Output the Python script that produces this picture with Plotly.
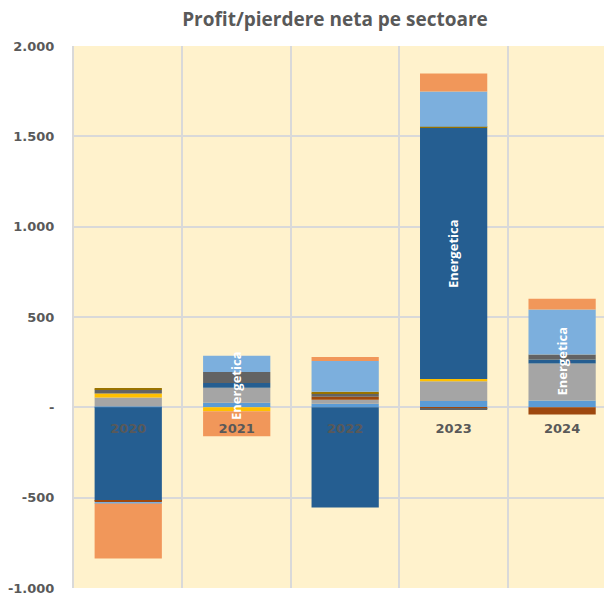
import plotly.graph_objects as go

ani = ['2020', '2021', '2022', '2023', '2024']

# profit / pierdere neta pe sectoare
financiar = [5, 25, 20, 35, 38]
industrie = [50, 83, 22, 110, 205]
constructii = [22, -22, 0, 12, 0]
energetica = [-518, 27, -555, 1390, 22]
chimie = [-6, 0, 17, -5, -39]
transport = [22, 60, 17, -10, 28]
turism = [6, 0, 10, 6, 0]
imobiliare = [-8, 90, 170, 195, 248]
altele = [-305, -138, 22, 100, 60]

eticheta_energetica = [False, True, False, True, True]

y_tickvals = [2000, 1500, 1000, 500, 0, -500, -1000]
y_ticktext = ['2.000', '1.500', '1.000', '500', '-', '-500', '-1.000']

serii = [
    ('Financiar', financiar, '#5B9BD5'),
    ('Industrie', industrie, '#A5A5A5'),
    ('Constructii', constructii, '#FFC000'),
    ('Energetica', energetica, '#255E91'),
    ('Chimie', chimie, '#9E480E'),
    ('Transport', transport, '#636363'),
    ('Turism', turism, '#997300'),
    ('Imobiliare', imobiliare, '#7CAFDD'),
    ('Altele', altele, '#F1975A'),
]

fig = go.Figure()

for nume, valori, culoare in serii:
    fig.add_trace(
        go.Bar(
            x = ani, y = valori, name = nume,
            marker = dict(color = culoare, line = dict(width = 0)),
        )
    )

# eticheta "Energetica" in mijlocul segmentului (peste celelalte serii)
sub_energetica = [s[1] for s in serii[:3]]
for i, an in enumerate(ani):
    if not eticheta_energetica[i]:
        continue
    e = energetica[i]
    if e >= 0:
        baza = sum(v[i] for v in sub_energetica if v[i] > 0)
    else:
        baza = sum(v[i] for v in sub_energetica if v[i] < 0)
    fig.add_annotation(
        x = i, y = baza + e / 2,
        xref = 'x', yref = 'y',
        text = '<b>Energetica</b>', textangle = -90,
        showarrow = False,
        font = dict(family = 'Open Sans', size = 13, color = 'white'),
    )

# pagina are o margine de 8px, deci figura e putin mai mica
fig.update_layout(
    width = 604, height = 588,
    barmode = 'relative',
    bargap = 0.38,
    showlegend = False,
    paper_bgcolor = 'white',
    plot_bgcolor = '#FFF2CC',
    margin = dict(l = 65, r = 0, t = 38, b = 6, pad = 0),
    title = dict(
        text = '<b>Profit/pierdere neta pe sectoare</b>',
        x = 327 / 604, xanchor = 'center',
        y = 1 - 11 / 588, yanchor = 'middle',
        font = dict(family = 'Open Sans', size = 19, color = '#595959'),
    ),
    xaxis = dict(
        type = 'category',
        range = [-0.5, 4.46],
        anchor = 'free', position = 1 / 3,
        tickson = 'boundaries',
        showgrid = True, gridcolor = '#D9D9D9', gridwidth = 2,
        ticks = '', ticklabelstandoff = 12,
        tickfont = dict(family = 'DejaVu Sans', size = 13, color = '#595959', weight = 'bold'),
        showline = False,
        zeroline = False,
    ),
    yaxis = dict(
        range = [-1000, 2000],
        tickvals = y_tickvals, ticktext = y_ticktext,
        showgrid = True, gridcolor = '#D9D9D9', gridwidth = 2,
        zeroline = True, zerolinecolor = '#D9D9D9', zerolinewidth = 2,
        showline = True, linecolor = '#D9D9D9', linewidth = 2,
        ticks = 'outside', ticklen = 15, tickcolor = 'rgba(0,0,0,0)',
        ticklabeloverflow = 'allow',
        tickfont = dict(family = 'DejaVu Sans', size = 13, color = '#595959', weight = 'bold'),
    ),
)

fig.write_html('out.html')
